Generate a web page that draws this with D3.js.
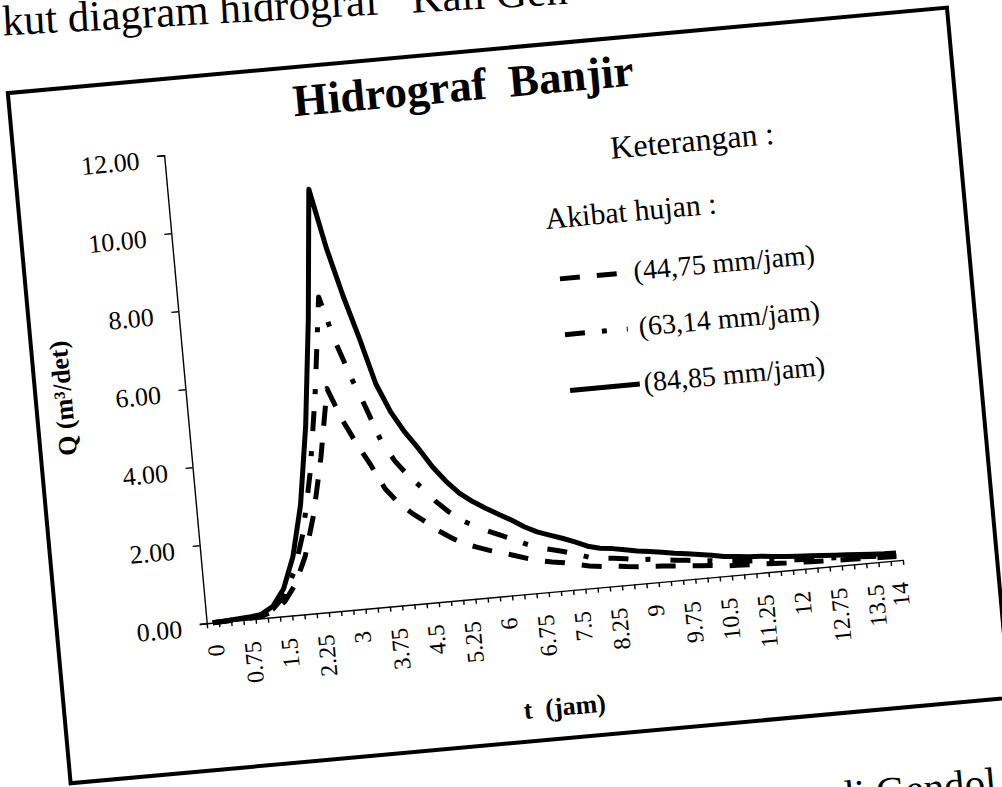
<!DOCTYPE html>
<html><head><meta charset="utf-8">
<script src="https://cdn.jsdelivr.net/npm/d3@7"></script>
<style>
html,body{margin:0;padding:0;background:#fff;}
svg{display:block;}
text{font-family:"Liberation Serif","Times New Roman",serif;fill:#000;}
</style></head><body>
<svg id="chart" width="1002" height="787"></svg>
<script>
// ---- data ----
const tCats = [0,0.25,0.5,0.75,1,1.25,1.5,1.75,2,2.25,2.5,2.75,3,3.25,3.5,3.75,4,4.25,4.5,4.75,5,5.25,5.5,5.75,6,6.25,6.5,6.75,7,7.25,7.5,7.75,8,8.25,8.5,8.75,9,9.25,9.5,9.75,10,10.25,10.5,10.75,11,11.25,11.5,11.75,12,12.25,12.5,12.75,13,13.25,13.5,13.75,14];
const q44 = [0.00,0.01,0.02,0.03,0.05,0.15,0.37,0.79,1.48,2.53,3.95,5.69,4.87,4.22,3.64,3.00,2.61,2.32,2.08,1.82,1.61,1.43,1.31,1.20,1.11,1.01,0.91,0.82,0.76,0.71,0.64,0.57,0.53,0.51,0.47,0.44,0.42,0.40,0.37,0.35,0.32,0.30,0.26,0.25,0.23,0.22,0.21,0.19,0.18,0.17,0.16,0.15,0.14,0.13,0.12,0.11,0.10];
const q63 = [0.00,0.01,0.03,0.04,0.07,0.21,0.52,1.12,2.08,3.57,5.58,8.04,6.88,5.95,5.13,4.24,3.68,3.27,2.94,2.57,2.27,2.02,1.85,1.70,1.56,1.43,1.28,1.16,1.08,1.00,0.91,0.80,0.74,0.71,0.67,0.62,0.60,0.56,0.52,0.49,0.45,0.42,0.37,0.35,0.33,0.31,0.29,0.27,0.25,0.24,0.22,0.21,0.19,0.18,0.16,0.15,0.14];
const q84 = [0.00,0.02,0.04,0.06,0.10,0.28,0.70,1.50,2.80,4.80,7.50,10.80,9.25,8.00,6.90,5.70,4.95,4.40,3.95,3.45,3.05,2.72,2.48,2.28,2.10,1.92,1.72,1.56,1.45,1.34,1.22,1.08,1.00,0.96,0.90,0.84,0.80,0.75,0.70,0.66,0.61,0.56,0.50,0.47,0.44,0.42,0.39,0.36,0.34,0.32,0.30,0.28,0.26,0.24,0.22,0.20,0.19];
const xLabelVals = [0,0.75,1.5,2.25,3,3.75,4.5,5.25,6,6.75,7.5,8.25,9,9.75,10.5,11.25,12,12.75,13.5,14];
const xLabelTexts = ["0","0.75","1.5","2.25","3","3.75","4.5","5.25","6","6.75","7.5","8.25","9","9.75","10.5","11.25","12","12.75","13.5","14"];
const yTicks = [0,2,4,6,8,10,12];
const seriesNames = ["(44,75 mm/jam)","(63,14 mm/jam)","(84,85 mm/jam)"];
const titleText = "Hidrograf  Banjir";
const xTitle = "t  (jam)";
const yTitle = "Q (m³/det)";
const legendHead1 = "Keterangan :";
const legendHead2 = "Akibat hujan :";
const pageTopText = "kut diagram hidrograf   Kali Gen";
const pageBottomText = "di Gendol";

// ---- layout ----
const W = 699, H = 470;
const svg = d3.select("#chart");
svg.append("rect").attr("width",1002).attr("height",787).attr("fill","#fff");

// page text above the figure (slightly different skew in the scan)
svg.append("text").attr("transform","translate(3,35.5) rotate(-3.2)")
  .style("font-size","43px").style("white-space","pre").text(pageTopText);

const g = svg.append("g").attr("transform","translate(206.7,623.3) rotate(-5.2)");

// page text below the figure
g.append("text").attr("x",772).attr("y",243).attr("text-anchor","end").style("font-size","41px").text(pageBottomText);

// frame
g.append("rect").attr("x",-150).attr("y",-546).attr("width",943).attr("height",693)
  .attr("fill","none").attr("stroke","#000").attr("stroke-width",4);

// title
g.append("text").attr("x",304).attr("y",-497).attr("text-anchor","middle")
  .style("font-size","45px").style("font-weight","bold").style("white-space","pre").text(titleText);

// scales
const x = d3.scalePoint().domain(tCats).range([0,W]).padding(0.5);
const xb = d3.scaleLinear().domain([0,tCats.length]).range([0,W]);
const y = d3.scaleLinear().domain([0,12]).range([0,-H]);

// y axis
const ya = g.append("g").call(d3.axisLeft(y).tickValues(yTicks).tickSize(7).tickPadding(18).tickFormat(d=>d.toFixed(2)));
ya.attr("font-family",null).attr("font-size",null);
ya.selectAll("path,line").attr("stroke","#000").attr("stroke-width",1.4);
ya.selectAll("text").style("font-size","26px").attr("dy","0.45em");

// x axis with boundary ticks
const xa = g.append("g").call(d3.axisBottom(xb).tickValues(d3.range(tCats.length+1)).tickSize(5).tickSizeOuter(0).tickFormat(""));
xa.selectAll("path,line").attr("stroke","#000").attr("stroke-width",1.4);

// x labels
const xl = g.append("g").call(d3.axisBottom(x).tickValues(xLabelVals).tickSize(0).tickFormat((d,i)=>xLabelTexts[i]));
xl.attr("font-family",null).attr("font-size",null);
xl.select(".domain").remove();
xl.selectAll("text").attr("transform","rotate(-90)").attr("x",-22).attr("y",0).attr("dy","0.35em")
  .attr("text-anchor","end").style("font-size","24px");

// axis titles
g.append("text").attr("transform","translate(-114,-237) rotate(-90)").attr("text-anchor","middle")
  .style("font-size","26px").style("font-weight","bold").text(yTitle);
g.append("text").attr("x",349).attr("y",124).attr("text-anchor","middle")
  .style("font-size","26px").style("font-weight","bold").style("white-space","pre").text(xTitle);

// series
const dashes = ["20,17","20,17,5,20",null];
const series = [q44,q63,q84];
const line = d3.line().x((d,i)=>x(tCats[i])).y(d=>y(d));
series.forEach((s,k)=>{
  g.append("path").datum(s).attr("d",line).attr("fill","none").attr("stroke","#000")
   .attr("stroke-width",5).attr("stroke-linejoin","round")
   .attr("stroke-dasharray",dashes[k]);
});

// legend
g.append("text").attr("x",445).attr("y",-426).style("font-size","32px").text(legendHead1);
g.append("text").attr("x",374).attr("y",-362).style("font-size","30px").text(legendHead2);
const legY = [-311,-255,-199];
seriesNames.forEach((n,k)=>{
  g.append("line").attr("x1",383).attr("x2",k===2?453:446).attr("y1",legY[k]).attr("y2",legY[k])
   .attr("stroke","#000").attr("stroke-width",5).attr("stroke-dasharray",dashes[k]);
  g.append("text").attr("x",457).attr("y",legY[k]+8).style("font-size","28px").text(n);
});
</script>
</body></html>
